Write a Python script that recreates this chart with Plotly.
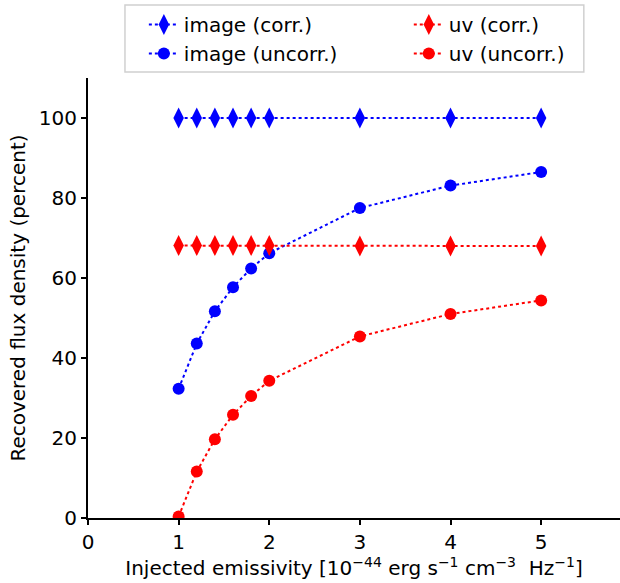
import plotly.graph_objects as go

x_vals = [1.0, 1.2, 1.4, 1.6, 1.8, 2.0, 3.0, 4.0, 5.0]
image_corr = [100, 100, 100, 100, 100, 100, 100, 100, 100]
uv_corr = [68.1, 68.1, 68.1, 68.1, 68.1, 68.1, 68.0, 68.0, 68.0]
image_uncorr = [32.3, 43.6, 51.7, 57.7, 62.4, 66.2, 77.5, 83.1, 86.5]
uv_uncorr = [0.4, 11.6, 19.7, 25.8, 30.5, 34.3, 45.4, 51.0, 54.4]

x_ticks = [0, 1, 2, 3, 4, 5]
y_ticks = [0, 20, 40, 60, 80, 100]

font = "DejaVu Sans"
FS = 20
fig = go.Figure()

def add(y, name, color, symbol, size, legend):
    fig.add_trace(go.Scatter(
        x=x_vals, y=y, name=name, mode="lines+markers", legend=legend,
        line=dict(color=color, width=2, dash="dot"),
        marker=dict(color=color, symbol=symbol, size=size, line=dict(width=0)),
    ))

add(image_corr, "image (corr.)", "#0000ff", "diamond-tall", 15, "legend")
add(image_uncorr, "image (uncorr.)", "#0000ff", "circle", 12, "legend")
add(uv_corr, "uv (corr.)", "#ff0000", "diamond-tall", 15, "legend2")
add(uv_uncorr, "uv (uncorr.)", "#ff0000", "circle", 12, "legend2")

axis_common = dict(
    showgrid=False, zeroline=False, showline=True, linecolor="black", linewidth=2,
    ticks="outside", ticklen=5, tickwidth=2, tickcolor="black",
    tickfont=dict(family=font, size=FS, color="black"),
    mirror=False,
)

leg_common = dict(orientation="v", yanchor="top", xanchor="left", y=1.166,
                  bgcolor="rgba(0,0,0,0)", borderwidth=0, tracegroupgap=0,
                  font=dict(family=font, size=FS, color="black"), traceorder="normal")

fig.update_layout(
    width=620, height=583,
    margin=dict(l=88, r=0, t=78, b=65),
    paper_bgcolor="white", plot_bgcolor="white",
    font=dict(family=font, size=FS, color="black"),
    xaxis=dict(range=[0, 5.87], tickvals=x_ticks, ticktext=[str(v) for v in x_ticks],
               title=dict(text="Injected emissivity [10<sup>−44</sup> erg s<sup>−1</sup> cm<sup>−3</sup>  Hz<sup>−1</sup>]",
                          font=dict(family=font, size=FS), standoff=6),
               **axis_common),
    yaxis=dict(range=[0, 110], tickvals=y_ticks, ticktext=[str(v) for v in y_ticks],
               title=dict(text="Recovered flux density (percent)", font=dict(family=font, size=FS), standoff=8),
               **axis_common),
    legend=dict(x=0.105, **leg_common),
    legend2=dict(x=0.603, **leg_common),
    showlegend=True,
    shapes=[dict(type="rect", xref="paper", yref="paper",
                 x0=0.0695, x1=0.932, y0=1.0136, y1=1.166,
                 line=dict(color="#d0d0d0", width=1.5), fillcolor="rgba(0,0,0,0)")],
)

fig.write_html("out.html")
